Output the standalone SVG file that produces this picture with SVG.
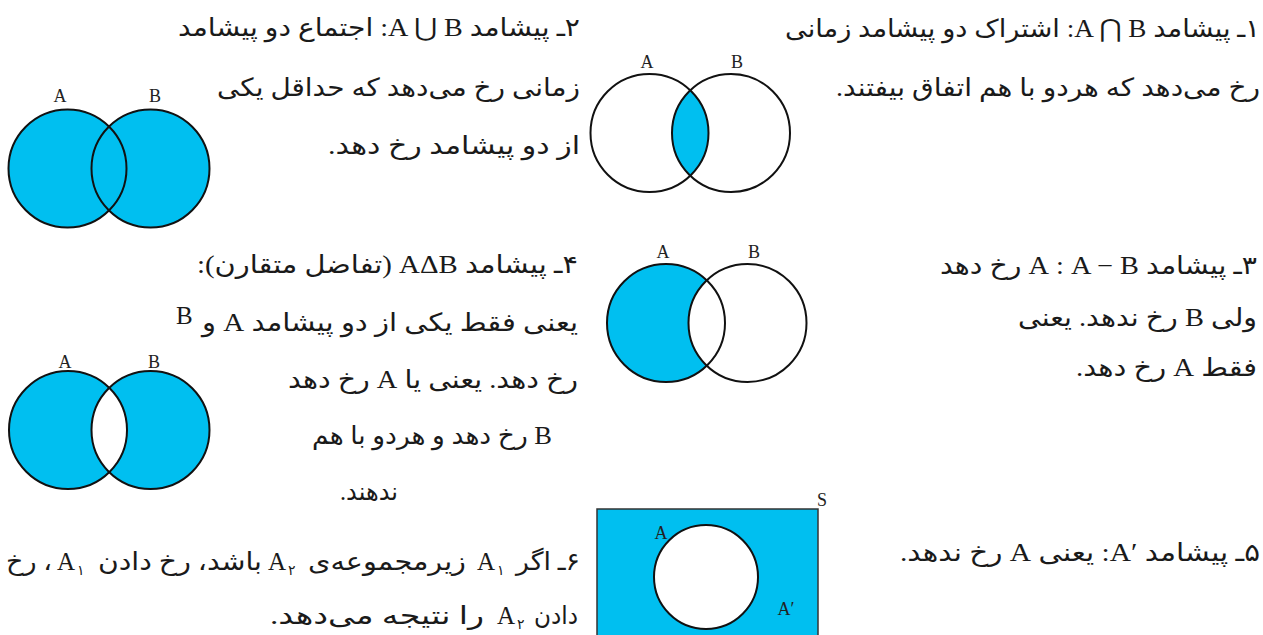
<svg xmlns="http://www.w3.org/2000/svg" width="1263" height="635" viewBox="0 0 1263 635">
<style>
.t{font-family:"Liberation Serif","DejaVu Sans",serif;font-size:25px;fill:#1a1a1a}
.s{font-family:"DejaVu Sans",sans-serif;font-size:14px;fill:#1a1a1a}
.lbl{font-family:"Liberation Serif",serif;font-size:18px;fill:#222;text-anchor:middle}
.cy{fill:#00bff0}
.wh{fill:#ffffff}
.ol{fill:none;stroke:#111;stroke-width:2}
</style>
<rect width="1263" height="635" fill="#ffffff"/>

<g id="item-1">
<text class="t" x="1260" y="37" direction="rtl" text-anchor="start" textLength="475" lengthAdjust="spacingAndGlyphs">۱ـ پیشامد A ⋂ B: اشتراک دو پیشامد زمانی</text>
<text class="t" x="1260" y="96" direction="rtl" text-anchor="start" textLength="424" lengthAdjust="spacingAndGlyphs">رخ می‌دهد که هردو با هم اتفاق بیفتند.</text>
</g>

<g id="item-2">
<text class="t" x="580" y="36" direction="rtl" text-anchor="start" textLength="402" lengthAdjust="spacingAndGlyphs">۲ـ پیشامد A ⋃ B: اجتماع دو پیشامد</text>
<text class="t" x="580" y="96" direction="rtl" text-anchor="start" textLength="363" lengthAdjust="spacingAndGlyphs">زمانی رخ می‌دهد که حداقل یکی</text>
<text class="t" x="580" y="154" direction="rtl" text-anchor="start" textLength="252" lengthAdjust="spacingAndGlyphs">از دو پیشامد رخ دهد.</text>
</g>

<g id="item-3">
<text class="t" x="1257" y="274" direction="rtl" text-anchor="start" textLength="317" lengthAdjust="spacingAndGlyphs">۳ـ پیشامد A − B&#x200F; :&#x200F; A  رخ دهد</text>
<text class="t" x="1257" y="326" direction="rtl" text-anchor="start" textLength="239" lengthAdjust="spacingAndGlyphs">ولی B  رخ ندهد. یعنی</text>
<text class="t" x="1257" y="376" direction="rtl" text-anchor="start" textLength="181" lengthAdjust="spacingAndGlyphs">فقط A  رخ دهد.</text>
</g>

<g id="item-4">
<text class="t" x="578" y="273" direction="rtl" text-anchor="start" textLength="381" lengthAdjust="spacingAndGlyphs">۴ـ پیشامد AΔB  (تفاضل متقارن):</text>
<text class="t" x="578" y="331" direction="rtl" text-anchor="start" textLength="376" lengthAdjust="spacingAndGlyphs">یعنی فقط یکی از دو پیشامد A  و</text>
<text class="t" x="176" y="324">B</text>
<text class="t" x="578" y="388" direction="rtl" text-anchor="start" textLength="290" lengthAdjust="spacingAndGlyphs">رخ دهد. یعنی یا A  رخ دهد</text>
<text class="t" x="552" y="444" direction="rtl" text-anchor="start" textLength="240" lengthAdjust="spacingAndGlyphs">B  رخ دهد و هردو با هم</text>
<text class="t" x="398" y="500" direction="rtl" text-anchor="start" textLength="58" lengthAdjust="spacingAndGlyphs">ندهند.</text>
</g>

<g id="item-5">
<text class="t" x="1260" y="561" direction="rtl" text-anchor="start" textLength="360" lengthAdjust="spacingAndGlyphs">۵ـ پیشامد A′&#x200E;: یعنی A  رخ ندهد.</text>
</g>

<g id="item-6">
<text class="t" x="580" y="570" direction="rtl" text-anchor="start" textLength="64" lengthAdjust="spacingAndGlyphs">۶ـ اگر</text>
<text class="t" x="477" y="570">A</text>
<text class="s" x="497" y="575">۱</text>
<text class="t" x="466" y="570" direction="rtl" text-anchor="start" textLength="158" lengthAdjust="spacingAndGlyphs">زیرمجموعه‌ی</text>
<text class="t" x="268" y="570">A</text>
<text class="s" x="288" y="575">۲</text>
<text class="t" x="262" y="570" direction="rtl" text-anchor="start" textLength="164" lengthAdjust="spacingAndGlyphs">باشد، رخ دادن</text>
<text class="t" x="57" y="570">A</text>
<text class="s" x="77" y="575">۱</text>
<text class="t" x="52" y="570" direction="rtl" text-anchor="start" textLength="46" lengthAdjust="spacingAndGlyphs">، رخ</text>
<text class="t" x="578" y="624" direction="rtl" text-anchor="start" textLength="44" lengthAdjust="spacingAndGlyphs">دادن</text>
<text class="t" x="497" y="624">A</text>
<text class="s" x="517" y="629">۲</text>
<text class="t" x="484" y="624" direction="rtl" text-anchor="start" textLength="214" lengthAdjust="spacingAndGlyphs">را نتیجه می‌دهد.</text>
</g>

<g id="venn-intersection">
<circle class="wh" cx="649.5" cy="133" r="59"/>
<circle class="wh" cx="731" cy="133" r="59"/>
<path class="cy" d="M690.25,90.33 A59,59 0 0 1 690.25,175.67 A59,59 0 0 1 690.25,90.33Z"/>
<circle class="ol" cx="649.5" cy="133" r="59"/>
<circle class="ol" cx="731" cy="133" r="59"/>
<text class="lbl" x="647" y="68">A</text>
<text class="lbl" x="737" y="68">B</text>
</g>

<g id="venn-union">
<circle class="cy" cx="67.5" cy="168.5" r="59"/>
<circle class="cy" cx="150.5" cy="168.5" r="59"/>
<circle class="ol" cx="67.5" cy="168.5" r="59"/>
<circle class="ol" cx="150.5" cy="168.5" r="59"/>
<text class="lbl" x="60" y="102">A</text>
<text class="lbl" x="155" y="102">B</text>
</g>

<g id="venn-difference">
<circle class="cy" cx="666" cy="323" r="59"/>
<circle class="wh" cx="747.5" cy="323" r="59"/>
<circle class="ol" cx="666" cy="323" r="59"/>
<circle class="ol" cx="747.5" cy="323" r="59"/>
<text class="lbl" x="663" y="258">A</text>
<text class="lbl" x="754" y="258">B</text>
</g>

<g id="venn-symmetric">
<circle class="cy" cx="68" cy="430" r="59"/>
<circle class="cy" cx="150.5" cy="430" r="59"/>
<path class="wh" d="M109.25,387.82 A59,59 0 0 1 109.25,472.18 A59,59 0 0 1 109.25,387.82Z"/>
<circle class="ol" cx="68" cy="430" r="59"/>
<circle class="ol" cx="150.5" cy="430" r="59"/>
<text class="lbl" x="65" y="368">A</text>
<text class="lbl" x="154" y="368">B</text>
</g>

<g id="venn-complement">
<rect x="597" y="509" width="221" height="140" fill="#00bff0" stroke="#333" stroke-width="1.5"/>
<circle cx="706" cy="577" r="52" fill="#ffffff" stroke="#111" stroke-width="2"/>
<text class="lbl" x="822" y="506">S</text>
<text class="lbl" x="661" y="539">A</text>
<text class="lbl" x="786" y="615">A′</text>
</g>
</svg>
